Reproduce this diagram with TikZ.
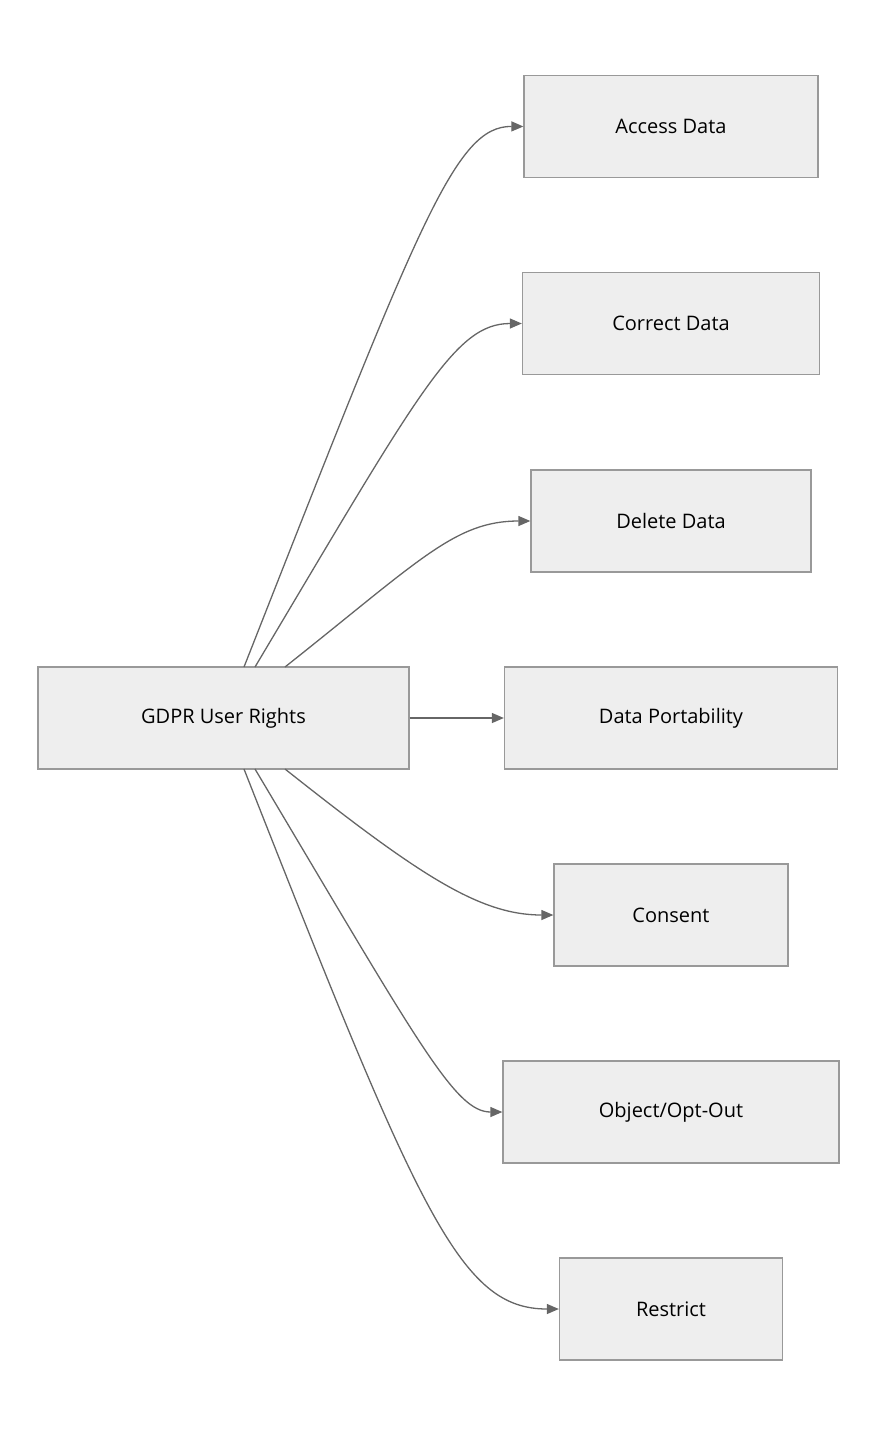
\documentclass[tikz,border=0pt]{standalone}
\usepackage{fontspec}
\setmainfont{Open Sans}
\usetikzlibrary{arrows.meta}
\definecolor{bx}{HTML}{EEEEEE}
\definecolor{bd}{HTML}{999999}
\definecolor{ln}{HTML}{666666}
\begin{document}
\begin{tikzpicture}[x=1pt,y=-1pt,
 box/.style={draw=bd,fill=bx,line width=1.3pt,minimum height=102pt,inner sep=0pt,font=\fontsize{20}{24}\selectfont},
 ed/.style={draw=ln,line width=1.3pt,-{Triangle[length=12pt,width=10pt]}}]
\useasboundingbox (0,0) rectangle (876,1436);
\node[box,minimum width=371pt] (g) at (223.5,718) {GDPR User Rights};
\node[box,minimum width=294pt] (a) at (671,126.5) {Access Data};
\node[box,minimum width=297pt] (c) at (671,323.5) {Correct Data};
\node[box,minimum width=280pt] (d) at (671,521) {Delete Data};
\node[box,minimum width=333pt] (p) at (671,718) {Data Portability};
\node[box,minimum width=234pt] (s) at (671,915) {Consent};
\node[box,minimum width=336pt] (o) at (671,1112) {Object/Opt-Out};
\node[box,minimum width=223pt] (r) at (671,1309) {Restrict};
\coordinate (t1) at (244,667); \coordinate (t2) at (255,667); \coordinate (t3) at (285,667);
\coordinate (b1) at (244,769); \coordinate (b2) at (255,769); \coordinate (b3) at (285,769);
\draw[ed] (t1) .. controls (420,220) and (455,126) .. (a.west);
\draw[ed] (t2) .. controls (420,390) and (455,323.5) .. (c.west);
\draw[ed] (t3) .. controls (420,560) and (455,521) .. (d.west);
\draw[ed] (g.east) -- (p.west);
\draw[ed] (b3) .. controls (420,876) and (480,915) .. (s.west);
\draw[ed] (b2) .. controls (420,1046) and (455,1112) .. (o.west);
\draw[ed] (b1) .. controls (420,1216) and (460,1309) .. (r.west);
\end{tikzpicture}
\end{document}
